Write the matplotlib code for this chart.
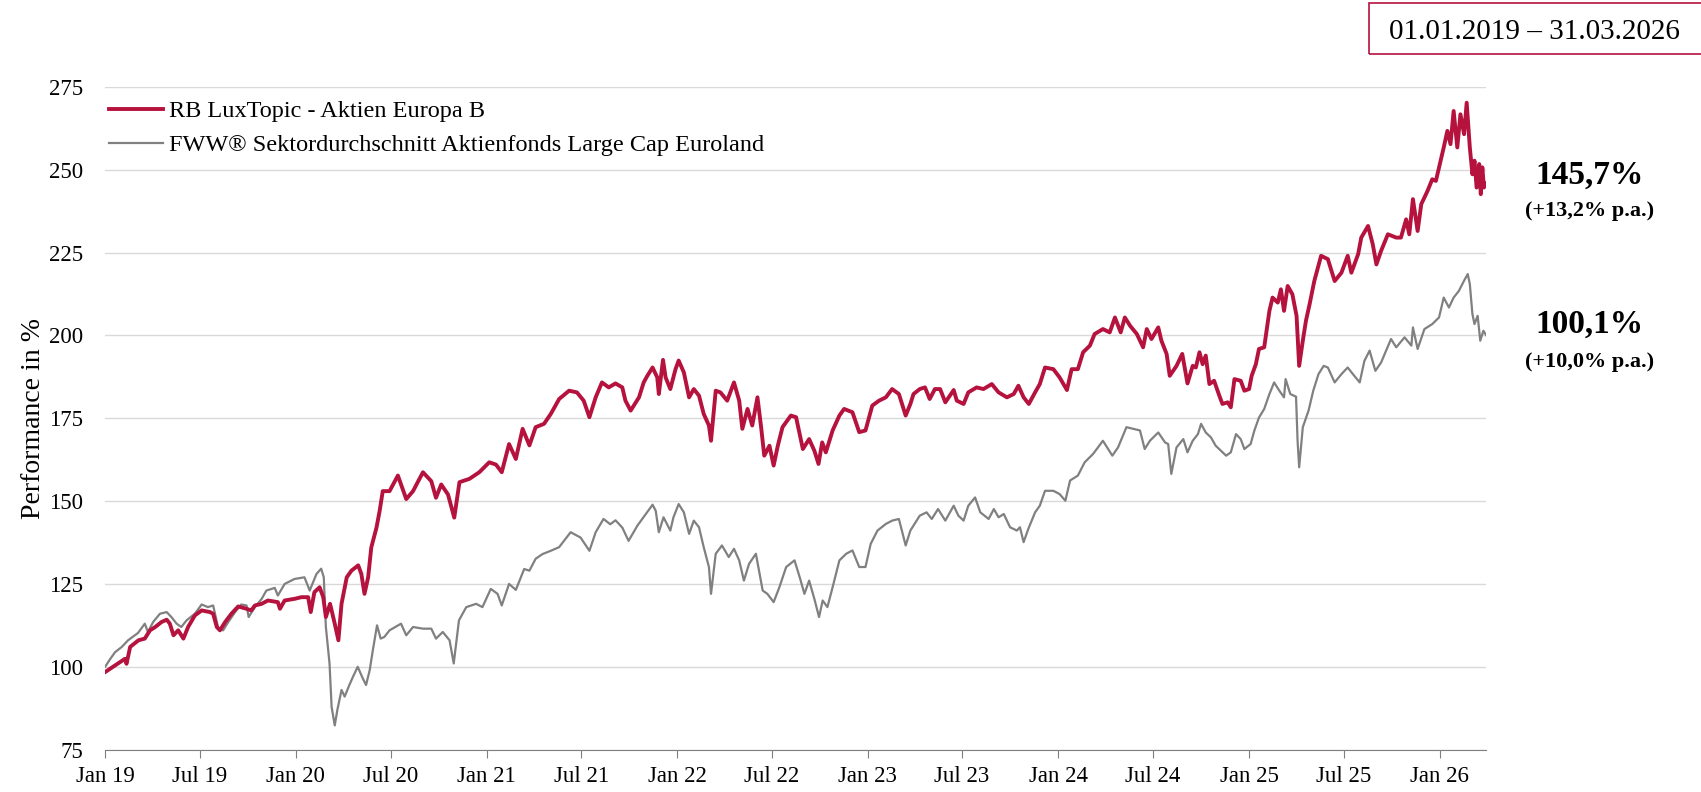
import matplotlib
matplotlib.use("Agg")
import matplotlib.pyplot as plt
import matplotlib.dates as mdates
from matplotlib.patches import Rectangle
import pandas as pd

# values (indexed performance, start = 100)
fund_dates = [
    "2019-01-01", "2019-01-20", "2019-02-08", "2019-02-11", "2019-02-18", "2019-03-06", "2019-03-18",
    "2019-03-28", "2019-04-07", "2019-04-19", "2019-04-29", "2019-05-05", "2019-05-12", "2019-05-21",
    "2019-05-31", "2019-06-09", "2019-06-22", "2019-07-05", "2019-07-21", "2019-07-27", "2019-08-03",
    "2019-08-09", "2019-08-19", "2019-08-31", "2019-09-13", "2019-09-29", "2019-10-08", "2019-10-15",
    "2019-10-28", "2019-11-09", "2019-11-28", "2019-12-02", "2019-12-11", "2019-12-30", "2020-01-12",
    "2020-01-25", "2020-01-30", "2020-02-06", "2020-02-16", "2020-02-23", "2020-02-28", "2020-03-07",
    "2020-03-16", "2020-03-23", "2020-03-29", "2020-04-08", "2020-04-17", "2020-04-30", "2020-05-06",
    "2020-05-12", "2020-05-19", "2020-05-25", "2020-06-04", "2020-06-10", "2020-06-16", "2020-06-29",
    "2020-07-15", "2020-07-31", "2020-08-13", "2020-09-01", "2020-09-17", "2020-09-26", "2020-10-06",
    "2020-10-19", "2020-10-31", "2020-11-10", "2020-11-29", "2020-12-18", "2021-01-06", "2021-01-19",
    "2021-01-30", "2021-02-13", "2021-02-26", "2021-03-11", "2021-03-24", "2021-04-05", "2021-04-21",
    "2021-05-04", "2021-05-20", "2021-06-08", "2021-06-23", "2021-07-06", "2021-07-17", "2021-07-29",
    "2021-08-10", "2021-08-23", "2021-09-05", "2021-09-18", "2021-09-24", "2021-10-04", "2021-10-20",
    "2021-10-29", "2021-11-05", "2021-11-15", "2021-11-24", "2021-11-27", "2021-12-05", "2021-12-10",
    "2021-12-19", "2021-12-29", "2022-01-04", "2022-01-14", "2022-01-24", "2022-02-02", "2022-02-12",
    "2022-02-21", "2022-03-03", "2022-03-07", "2022-03-16", "2022-03-25", "2022-04-07", "2022-04-20",
    "2022-04-30", "2022-05-06", "2022-05-16", "2022-05-25", "2022-06-04", "2022-06-11", "2022-06-17",
    "2022-06-27", "2022-07-05", "2022-07-13", "2022-07-22", "2022-08-07", "2022-08-17", "2022-08-30",
    "2022-09-11", "2022-09-21", "2022-09-29", "2022-10-06", "2022-10-13", "2022-10-26", "2022-11-08",
    "2022-11-17", "2022-12-03", "2022-12-16", "2022-12-28", "2023-01-10", "2023-01-23", "2023-02-05",
    "2023-02-17", "2023-03-02", "2023-03-15", "2023-03-24", "2023-03-30", "2023-04-11", "2023-04-21",
    "2023-04-30", "2023-05-10", "2023-05-20", "2023-05-30", "2023-06-15", "2023-06-21", "2023-07-04",
    "2023-07-13", "2023-07-29", "2023-08-11", "2023-08-27", "2023-09-09", "2023-09-25", "2023-10-08",
    "2023-10-17", "2023-10-27", "2023-11-06", "2023-11-18", "2023-11-27", "2023-12-07", "2023-12-23",
    "2024-01-04", "2024-01-18", "2024-01-27", "2024-02-08", "2024-02-18", "2024-03-02", "2024-03-11",
    "2024-03-27", "2024-04-09", "2024-04-19", "2024-04-30", "2024-05-08", "2024-05-18", "2024-05-31",
    "2024-06-12", "2024-06-19", "2024-06-28", "2024-07-11", "2024-07-17", "2024-07-27", "2024-08-02",
    "2024-08-15", "2024-08-26", "2024-09-05", "2024-09-15", "2024-09-21", "2024-09-28", "2024-10-04",
    "2024-10-10", "2024-10-17", "2024-10-26", "2024-11-05", "2024-11-11", "2024-11-21", "2024-11-27",
    "2024-12-04", "2024-12-16", "2024-12-23", "2025-01-01", "2025-01-06", "2025-01-14", "2025-01-20",
    "2025-01-30", "2025-02-09", "2025-02-15", "2025-02-25", "2025-03-03", "2025-03-09", "2025-03-16",
    "2025-03-25", "2025-04-02", "2025-04-07", "2025-04-14", "2025-04-20", "2025-04-27", "2025-05-06",
    "2025-05-19", "2025-06-01", "2025-06-14", "2025-06-27", "2025-07-09", "2025-07-16", "2025-07-29",
    "2025-08-04", "2025-08-17", "2025-08-26", "2025-09-02", "2025-09-11", "2025-09-24", "2025-10-10",
    "2025-10-19", "2025-10-29", "2025-11-04", "2025-11-11", "2025-11-20", "2025-11-27", "2025-12-09",
    "2025-12-18", "2025-12-25", "2026-01-03", "2026-01-09", "2026-01-16", "2026-01-22", "2026-01-28",
    "2026-02-04", "2026-02-10", "2026-02-17", "2026-02-22", "2026-02-28", "2026-03-05", "2026-03-09",
    "2026-03-13", "2026-03-18", "2026-03-21", "2026-03-24", "2026-03-27", "2026-03-31",
]
fund_values = [
    98.4, 100.4, 102.4, 100.9, 106.0, 108.0, 108.5,
    111.0, 112.0, 113.5, 114.2, 113.0, 109.5, 111.0,
    108.5, 112.0, 115.5, 117.0, 116.5, 116.0, 112.0,
    111.0, 113.5, 116.0, 118.2, 117.5, 117.0, 118.5,
    119.0, 120.0, 119.5, 117.5, 120.0, 120.5, 121.0,
    121.0, 116.5, 122.5, 124.0, 121.0, 115.0, 119.0,
    113.0, 108.0, 119.0, 127.0, 129.0, 130.6, 128.0,
    122.0, 127.0, 136.0, 142.0, 147.0, 153.0, 153.0,
    157.7, 150.6, 153.0, 158.7, 156.0, 151.0, 155.0,
    152.0, 145.0, 155.7, 156.7, 158.7, 161.7, 161.0,
    158.7, 167.2, 162.7, 171.8, 166.8, 172.3, 173.3,
    176.3, 180.8, 183.3, 182.8, 180.3, 175.3, 181.3,
    185.8, 184.3, 185.5, 184.3, 180.3, 177.3, 181.3,
    185.8, 187.8, 190.3, 187.3, 182.3, 192.6, 187.3,
    183.8, 189.8, 192.4, 188.8, 181.3, 183.8, 181.8,
    176.3, 172.8, 168.2, 183.3, 182.8, 180.3, 185.8,
    180.3, 171.8, 177.8, 172.8, 181.3, 172.3, 163.7,
    166.7, 160.7, 166.7, 172.3, 175.8, 175.3, 165.7,
    168.7, 165.2, 161.2, 167.7, 164.7, 171.3, 175.8,
    177.8, 176.8, 170.8, 171.3, 178.8, 180.3, 181.3,
    183.8, 182.3, 175.8, 179.3, 182.3, 183.8, 184.3,
    180.8, 183.8, 183.8, 179.8, 183.5, 180.3, 179.3,
    182.8, 184.3, 183.8, 185.3, 182.8, 181.3, 182.3,
    184.8, 181.3, 179.3, 182.8, 185.3, 190.3, 189.8,
    187.3, 183.5, 189.8, 189.8, 194.9, 196.9, 200.4,
    201.9, 200.9, 205.4, 200.9, 205.4, 202.9, 200.4,
    196.4, 201.9, 198.9, 202.4, 198.4, 194.4, 187.8,
    190.8, 194.4, 185.5, 190.8, 190.3, 194.9, 191.3,
    193.9, 185.3, 186.3, 181.8, 179.3, 179.8, 178.3,
    186.8, 186.3, 183.3, 183.8, 187.8, 191.3, 195.9,
    196.4, 207.4, 211.4, 209.9, 213.9, 207.4, 214.9,
    212.4, 205.9, 190.8, 198.4, 204.4, 209.4, 216.4,
    224.0, 223.0, 216.4, 218.9, 224.0, 218.9, 224.5,
    229.5, 233.0, 227.5, 221.4, 225.5, 230.5, 229.5,
    229.5, 235.0, 230.5, 241.1, 231.5, 239.6, 243.6,
    247.1, 246.6, 252.7, 256.7, 261.7, 257.7, 267.7,
    256.7, 266.7, 260.7, 270.2, 256.7, 248.6, 252.7,
    244.6, 251.7, 242.6, 250.7, 244.6, 245.7,
]

peer_dates = [
    "2019-01-01", "2019-01-11", "2019-01-20", "2019-02-02", "2019-02-14", "2019-03-05", "2019-03-18",
    "2019-03-24", "2019-04-03", "2019-04-16", "2019-04-29", "2019-05-08", "2019-05-18", "2019-05-27",
    "2019-06-06", "2019-06-22", "2019-07-05", "2019-07-17", "2019-07-27", "2019-08-06", "2019-08-15",
    "2019-08-25", "2019-09-07", "2019-09-19", "2019-09-29", "2019-10-03", "2019-10-15", "2019-10-28",
    "2019-11-06", "2019-11-22", "2019-11-28", "2019-12-11", "2019-12-30", "2020-01-18", "2020-01-28",
    "2020-02-10", "2020-02-19", "2020-02-24", "2020-02-28", "2020-03-06", "2020-03-10", "2020-03-16",
    "2020-03-21", "2020-03-29", "2020-04-04", "2020-04-13", "2020-04-20", "2020-04-29", "2020-05-09",
    "2020-05-15", "2020-05-22", "2020-05-28", "2020-06-05", "2020-06-12", "2020-06-19", "2020-06-29",
    "2020-07-21", "2020-07-31", "2020-08-13", "2020-09-01", "2020-09-17", "2020-09-26", "2020-10-09",
    "2020-10-22", "2020-10-30", "2020-11-09", "2020-11-23", "2020-12-12", "2020-12-24", "2021-01-09",
    "2021-01-22", "2021-01-30", "2021-02-13", "2021-02-26", "2021-03-14", "2021-03-24", "2021-04-05",
    "2021-04-18", "2021-05-04", "2021-05-20", "2021-06-11", "2021-06-30", "2021-07-17", "2021-07-29",
    "2021-08-13", "2021-08-26", "2021-09-05", "2021-09-18", "2021-09-30", "2021-10-17", "2021-11-02",
    "2021-11-15", "2021-11-21", "2021-11-27", "2021-12-06", "2021-12-19", "2021-12-25", "2022-01-04",
    "2022-01-14", "2022-01-24", "2022-02-02", "2022-02-12", "2022-02-21", "2022-03-03", "2022-03-07",
    "2022-03-16", "2022-03-28", "2022-04-10", "2022-04-20", "2022-04-30", "2022-05-09", "2022-05-19",
    "2022-06-01", "2022-06-14", "2022-06-23", "2022-07-05", "2022-07-16", "2022-07-29", "2022-08-14",
    "2022-08-24", "2022-09-02", "2022-09-11", "2022-09-21", "2022-09-30", "2022-10-07", "2022-10-16",
    "2022-10-26", "2022-11-08", "2022-11-21", "2022-12-03", "2022-12-16", "2022-12-28", "2023-01-07",
    "2023-01-20", "2023-02-05", "2023-02-17", "2023-03-02", "2023-03-15", "2023-03-24", "2023-04-11",
    "2023-04-24", "2023-05-04", "2023-05-16", "2023-05-30", "2023-06-15", "2023-06-24", "2023-07-04",
    "2023-07-13", "2023-07-26", "2023-08-05", "2023-08-21", "2023-08-31", "2023-09-09", "2023-09-19",
    "2023-10-01", "2023-10-14", "2023-10-20", "2023-10-27", "2023-11-05", "2023-11-18", "2023-11-27",
    "2023-12-07", "2023-12-23", "2024-01-04", "2024-01-15", "2024-01-24", "2024-02-08", "2024-02-21",
    "2024-03-08", "2024-03-27", "2024-04-14", "2024-04-25", "2024-05-11", "2024-05-24", "2024-06-06",
    "2024-06-15", "2024-06-25", "2024-07-11", "2024-07-24", "2024-07-30", "2024-08-05", "2024-08-15",
    "2024-08-28", "2024-09-05", "2024-09-15", "2024-09-25", "2024-10-01", "2024-10-10", "2024-10-20",
    "2024-10-29", "2024-11-08", "2024-11-18", "2024-11-27", "2024-12-07", "2024-12-16", "2024-12-23",
    "2025-01-04", "2025-01-11", "2025-01-20", "2025-01-30", "2025-02-09", "2025-02-18", "2025-02-28",
    "2025-03-09", "2025-03-12", "2025-03-21", "2025-04-01", "2025-04-04", "2025-04-07", "2025-04-14",
    "2025-04-25", "2025-05-04", "2025-05-14", "2025-05-24", "2025-06-01", "2025-06-14", "2025-06-27",
    "2025-07-09", "2025-07-19", "2025-08-01", "2025-08-10", "2025-08-20", "2025-08-31", "2025-09-11",
    "2025-09-30", "2025-10-10", "2025-10-26", "2025-11-08", "2025-11-11", "2025-11-20", "2025-12-03",
    "2025-12-18", "2025-12-31", "2026-01-09", "2026-01-19", "2026-01-28", "2026-02-07", "2026-02-17",
    "2026-02-24", "2026-02-28", "2026-03-05", "2026-03-09", "2026-03-15", "2026-03-20", "2026-03-26",
    "2026-03-31",
]
peer_values = [
    100.0, 102.4, 104.4, 106.0, 108.0, 110.2, 113.0,
    110.5, 113.5, 116.0, 116.5, 115.0, 113.0, 112.0,
    114.0, 116.0, 118.8, 118.0, 118.5, 111.5, 111.0,
    113.5, 116.5, 118.8, 118.5, 115.0, 118.0, 120.5,
    123.0, 123.8, 121.5, 125.0, 126.5, 127.0, 123.0,
    128.0, 129.6, 127.0, 112.0, 101.0, 87.9, 82.3,
    87.0, 93.0, 91.0, 94.5, 97.0, 100.0, 96.4,
    94.5, 99.0, 105.0, 112.5, 108.5, 109.0, 111.0,
    113.0, 109.5, 112.0, 111.5, 111.5, 108.5, 110.5,
    108.0, 101.0, 114.0, 118.0, 119.0, 118.0, 123.5,
    122.0, 118.5, 125.0, 123.2, 129.5, 129.0, 132.6,
    134.0, 135.0, 136.1, 140.6, 139.0, 135.0, 140.6,
    144.6, 143.0, 144.2, 142.0, 138.0, 142.6, 146.1,
    148.9, 147.1, 140.6, 145.1, 141.1, 145.1, 149.1,
    146.6, 140.1, 144.1, 142.1, 136.1, 130.1, 122.0,
    134.1, 136.6, 133.1, 135.6, 132.1, 126.0, 131.1,
    134.1, 123.0, 122.0, 119.5, 124.0, 130.1, 132.1,
    127.0, 122.0, 126.0, 120.5, 115.0, 120.0, 118.0,
    124.0, 132.1, 134.1, 135.1, 130.1, 130.1, 137.1,
    141.1, 143.1, 144.1, 144.6, 136.6, 141.1, 145.6,
    146.6, 144.6, 147.6, 144.1, 148.6, 145.6, 144.1,
    148.6, 151.1, 146.6, 144.6, 147.6, 145.1, 146.1,
    142.1, 141.1, 142.1, 137.6, 141.6, 146.6, 148.6,
    153.1, 153.1, 152.1, 150.1, 156.2, 157.7, 161.7,
    164.2, 168.2, 163.7, 166.2, 172.3, 171.8, 171.3,
    165.7, 168.2, 170.7, 167.7, 167.2, 158.2, 166.2,
    168.7, 164.7, 168.2, 170.2, 173.3, 170.7, 169.2,
    166.7, 165.2, 163.7, 164.7, 170.2, 168.7, 165.7,
    167.2, 171.2, 175.2, 177.8, 182.3, 185.8, 183.3,
    181.3, 186.8, 182.3, 181.5, 168.0, 160.2, 172.3,
    177.3, 183.3, 188.3, 190.8, 190.3, 185.8, 188.3,
    190.3, 188.3, 185.8, 192.3, 195.4, 189.3, 191.8,
    198.9, 196.4, 199.4, 196.9, 202.4, 195.9, 201.9,
    203.4, 205.4, 211.4, 208.4, 211.4, 213.4, 216.5,
    218.5, 215.5, 206.4, 203.4, 205.9, 198.4, 201.4,
    200.1,
]

fund_name = "RB LuxTopic - Aktien Europa B"
peer_name = "FWW® Sektordurchschnitt Aktienfonds Large Cap Euroland"
period_text = "01.01.2019 \u2013 31.03.2026"
fund_total, fund_pa = "145,7%", "(+13,2% p.a.)"
peer_total, peer_pa = "100,1%", "(+10,0% p.a.)"

RED = "#B5123E"
GREY = "#808080"

plt.rcParams["font.family"] = ["Liberation Serif", "DejaVu Serif"]

fig = plt.figure(figsize=(17.01, 7.92), dpi=100)
ax = fig.add_axes([0.0618, 0.0535, 0.8118, 0.8369])

ax.plot(pd.to_datetime(peer_dates), peer_values, color=GREY, lw=1.6, label=peer_name, zorder=3)
ax.plot(pd.to_datetime(fund_dates), fund_values, color=RED, lw=2.8, label=fund_name, zorder=4)

ax.set_xlim(pd.Timestamp("2019-01-01"), pd.Timestamp("2026-03-31"))
ax.set_ylim(75, 275)
ax.set_yticks(range(75, 276, 25))
ax.grid(axis="y", color="#d9d9d9", lw=1.0)
ax.set_axisbelow(True)

ax.xaxis.set_major_locator(mdates.MonthLocator(bymonth=[1, 7]))
ax.xaxis.set_major_formatter(mdates.DateFormatter("%b %y"))
for s in ("top", "right", "left"):
    ax.spines[s].set_visible(False)
ax.spines["bottom"].set_color("#7f7f7f")
ax.tick_params(axis="x", length=6, color="#7f7f7f", labelsize=16.5, pad=6)
ax.tick_params(axis="y", length=0, labelsize=16.5, pad=16)

fig.text(0.0195, 0.472, "Performance in %", rotation=90, ha="center", va="center", fontsize=20)

handles, labels = ax.get_legend_handles_labels()
ax.legend(handles[::-1], labels[::-1], loc="upper left", bbox_to_anchor=(0.003, 0.98),
          frameon=False, fontsize=17.5, handlelength=2.2, handletextpad=0.25,
          labelspacing=0.5, borderaxespad=0.0, borderpad=0.0)

fig.patches.append(Rectangle((0.805, 0.932), 0.3, 0.064, transform=fig.transFigure,
                             fill=False, edgecolor=RED, lw=1.2))
fig.text(0.902, 0.959, period_text, ha="center", va="center", fontsize=21)

fig.text(0.9345, 0.779, fund_total, ha="center", va="center", fontsize=24, fontweight="bold")
fig.text(0.9345, 0.733, fund_pa, ha="center", va="center", fontsize=16, fontweight="bold")
fig.text(0.9345, 0.590, peer_total, ha="center", va="center", fontsize=24, fontweight="bold")
fig.text(0.9345, 0.543, peer_pa, ha="center", va="center", fontsize=16, fontweight="bold")

fig.savefig("out.png", dpi=100)
